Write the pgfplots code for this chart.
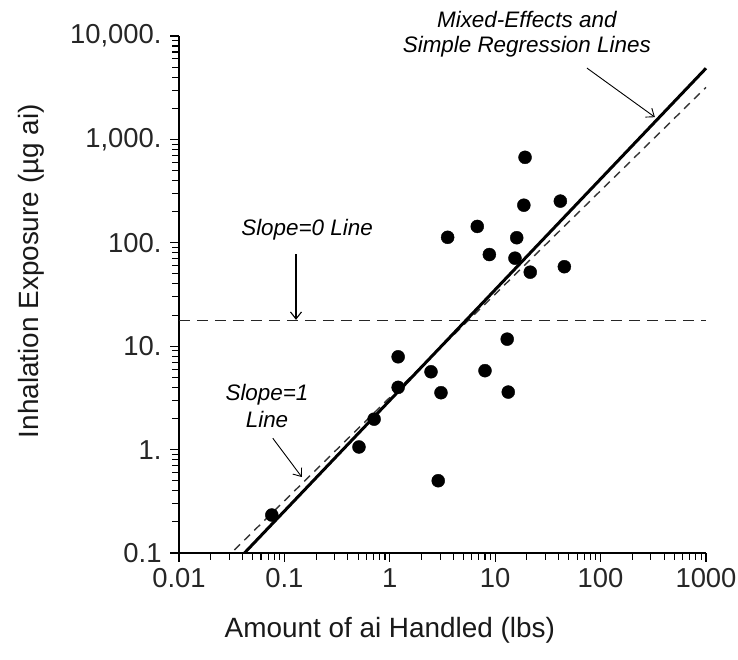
\documentclass[border=0pt]{standalone}
\usepackage{fontspec}
\setmainfont{Liberation Sans}
\usepackage{pgfplots}
\pgfplotsset{compat=1.18}
\usetikzlibrary{arrows.meta}
\begin{document}
\begin{tikzpicture}
\path[use as bounding box] (-179bp,-107bp) rectangle (559bp,553bp);
\begin{axis}[
  scale only axis,
  width=527bp, height=517bp,
  at={(0,0)}, anchor=south west,
  xmode=log, ymode=log,
  xmin=0.01, xmax=1000, ymin=0.1, ymax=10000,
  axis lines=left,
  axis line style={line width=1.6bp, -},
  tick align=outside,
  major tick length=9bp, minor tick length=7bp,
  every tick/.style={black, line width=1.1bp},
  xtick={0.01,0.1,1,10,100,1000},
  xticklabels={0.01,0.1,1,10,100,1000},
  ytick={0.1,1,10,100,1000,10000},
  yticklabels={0.1,1.,10.,100.,{1,000.},{10,000.}},
  tick label style={font=\fontsize{27.5}{30}\selectfont, text=black!85},
  xticklabel style={yshift=-3bp},
  yticklabel style={xshift=-5bp},
  xlabel={Amount of ai Handled (lbs)},
  ylabel={Inhalation Exposure (µg ai)},
  label style={font=\fontsize{28}{31}\selectfont, text=black!90},
  xlabel style={at={(axis description cs:0.40,-0.150)}, anchor=center},
  ylabel style={at={(axis description cs:-0.281,0.545)}, anchor=center},
  clip=false,
]
% data points
\addplot[only marks, mark=*, mark size=6.5bp, black] coordinates {
(0.076,0.233) (0.51,1.06) (0.71,1.97) (1.2,7.9) (1.2,4.0)
(2.46,5.66) (2.88,0.5) (3.06,3.55) (3.54,113) (6.76,144)
(8.0,5.8) (8.8,77) (13.0,11.7) (13.3,3.6) (15.4,71)
(16.0,112) (18.7,231) (19.2,671) (21.5,52) (41.5,253) (45.3,58.7)
};
% slope = 0 line
\addplot[black!85, line width=1.8bp, dash pattern=on 11bp off 7bp] coordinates {(0.01,17.7) (1000,17.7)};
% slope = 1 line
\addplot[black!80, line width=1.4bp, dash pattern=on 8bp off 6bp] coordinates {(0.0335,0.107) (1000,3190)};
% regression line
\addplot[black, line width=3bp] coordinates {(0.0418,0.1) (1000,4875)};
% annotations
\node[font=\fontsize{22.5}{26}\selectfont\itshape, anchor=center] at (axis description cs:0.243,0.625) {Slope=0 Line};
\draw[-{Straight Barb[length=7bp,width=11bp]}, line width=1.1bp] (axis description cs:0.222,0.578) -- (axis description cs:0.222,0.451);
\node[font=\fontsize{22.5}{27}\selectfont\itshape, align=center, anchor=center] at (axis description cs:0.167,0.284) {Slope=1\\Line};
\draw[-{Straight Barb[length=7bp,width=11bp]}, line width=0.9bp] (axis description cs:0.178,0.222) -- (axis description cs:0.233,0.147);
\node[font=\fontsize{22.5}{25}\selectfont\itshape, align=center, anchor=center] at (axis description cs:0.660,1.004) {Mixed-Effects and\\Simple Regression Lines};
\draw[-{Straight Barb[length=7bp,width=11bp]}, line width=0.9bp] (axis description cs:0.774,0.938) -- (axis description cs:0.903,0.843);
\end{axis}
\end{tikzpicture}
\end{document}
